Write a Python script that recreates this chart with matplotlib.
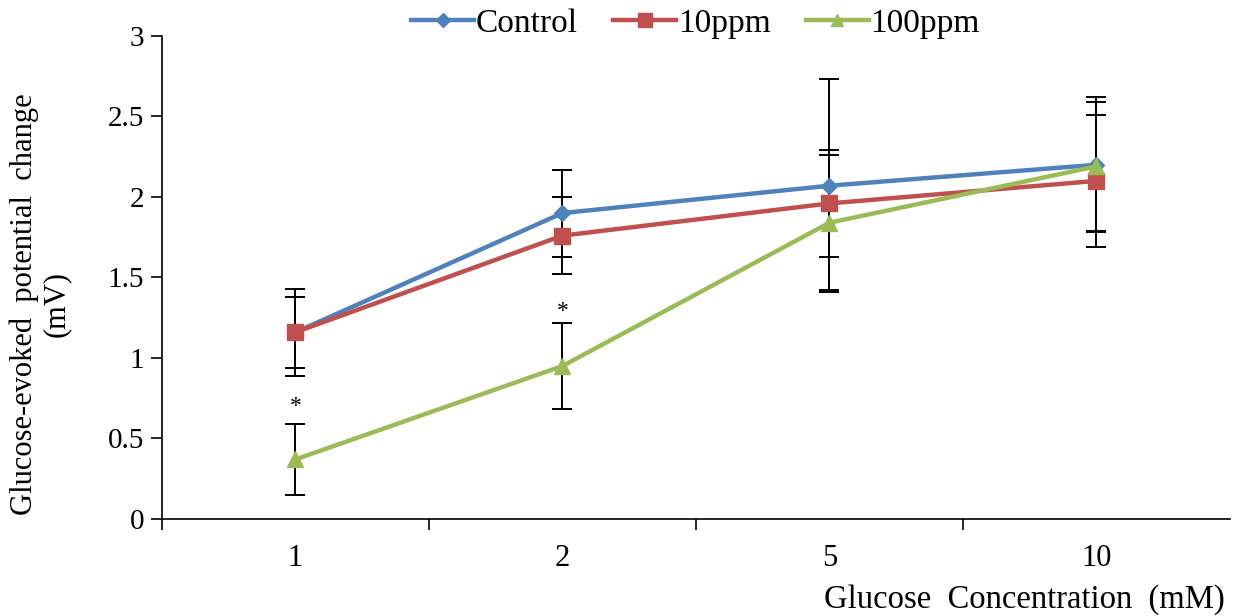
import matplotlib
matplotlib.use("Agg")
import matplotlib.pyplot as plt
import numpy as np

categories = ["1", "2", "5", "10"]
control = [1.16, 1.90, 2.07, 2.20]
control_err = [0.27, 0.27, 0.66, 0.42]
ppm10 = [1.16, 1.76, 1.96, 2.10]
ppm10_err = [0.22, 0.24, 0.33, 0.41]
ppm100 = [0.37, 0.95, 1.84, 2.19]
ppm100_err = [0.22, 0.27, 0.42, 0.40]
stars_y = [0.70, 1.29]

plt.rcParams['font.family'] = ['Liberation Serif', 'DejaVu Serif']

fig = plt.figure(figsize=(12.33, 6.16), dpi=100)
ax = fig.add_axes([0.1314, 0.1575, 0.866, 0.7841])

x = np.arange(len(categories))
series = [
    ("Control", control, control_err, "#4F81BD", "D", 8),
    ("10ppm", ppm10, ppm10_err, "#C0504D", "s", 12),
    ("100ppm", ppm100, ppm100_err, "#9BBB59", "^", 11),
]
handles = []
for name, vals, err, col, mk, ms in series:
    ax.errorbar(x, vals, yerr=err, fmt='none', ecolor='black', elinewidth=1.4,
                capsize=7, capthick=1.4, zorder=2)
for name, vals, err, col, mk, ms in series:
    h, = ax.plot(x, vals, color=col, marker=mk, markersize=ms, linewidth=3.2,
                 label=name, zorder=3)
    handles.append(h)

for xi, yi in zip([0, 1], stars_y):
    ax.text(xi, yi, "*", ha='center', va='center', fontsize=17)

ax.set_xlim(-0.5, 3.5)
ax.set_ylim(0, 3)
ax.set_yticks([0, 0.5, 1, 1.5, 2, 2.5, 3])
ax.set_yticklabels(["0", "0.5", "1", "1.5", "2", "2.5", "3"])
ax.set_xticks([-0.5, 0.5, 1.5, 2.5])
ax.set_xticklabels([])
ax.set_xticks(x, minor=True)
ax.set_xticklabels(categories, minor=True)
ax.tick_params(axis='x', which='major', direction='out', length=8, width=1.2)
ax.tick_params(axis='x', which='minor', length=0, pad=18, labelsize=22)
ax.tick_params(axis='y', direction='out', length=8, width=1.2, labelsize=21, pad=5)
for s in ['top', 'right']:
    ax.spines[s].set_visible(False)
for s in ['left', 'bottom']:
    ax.spines[s].set_linewidth(1.2)

ax.set_ylabel("Glucose-evoked  potential  change\n(mV)", fontsize=22,
              linespacing=1.1, va='center', ha='center')
ax.yaxis.set_label_coords(-0.114, 0.445)
fig.text(0.9935, 0.026, "Glucose  Concentration  (mM)", ha='right', va='center',
         fontsize=23.5)

fig.legend(handles=handles, loc='center', bbox_to_anchor=(0.564, 0.962), ncol=3,
           frameon=False, fontsize=24, handlelength=1.9, columnspacing=1.05,
           handletextpad=0.05, borderaxespad=0, markerscale=0.85)

fig.savefig("out.png", dpi=100)
